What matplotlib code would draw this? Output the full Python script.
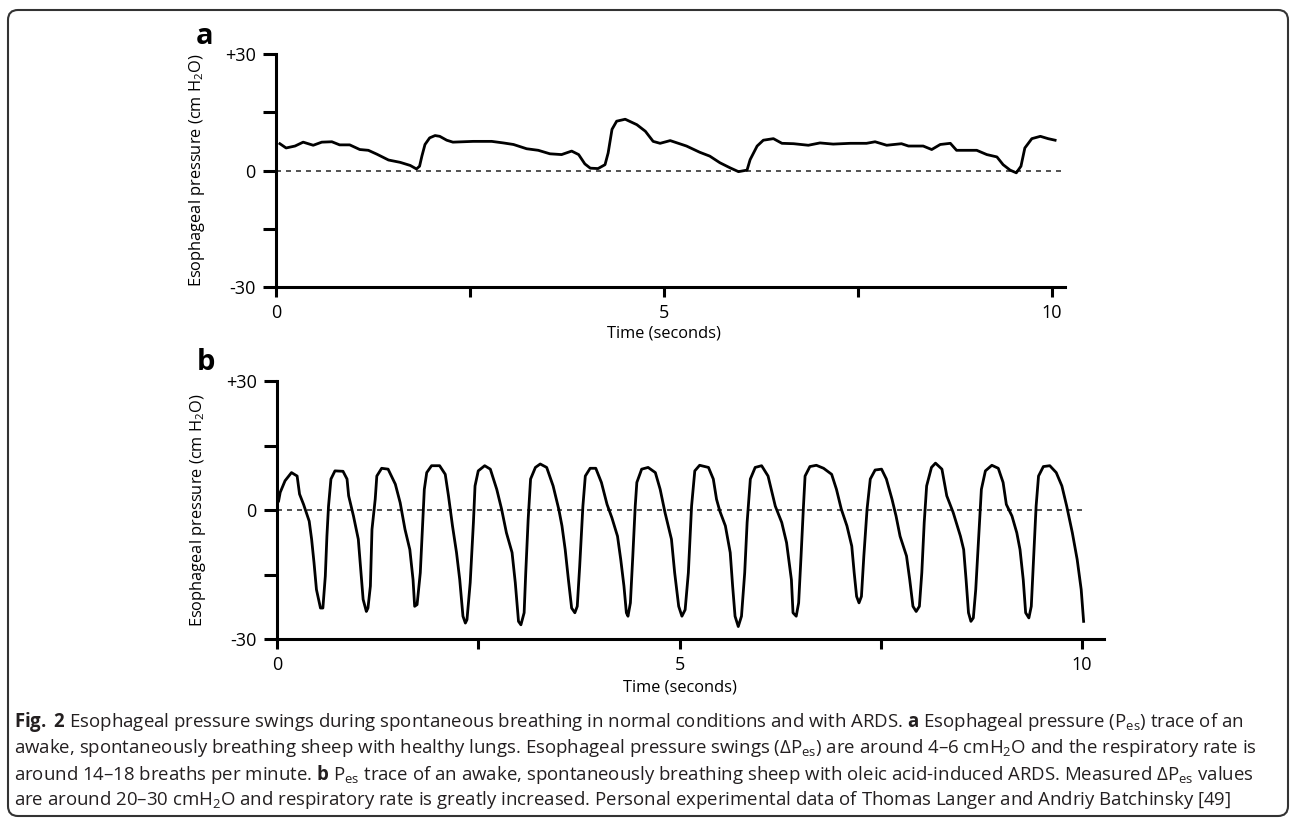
import matplotlib
matplotlib.use("Agg")
import matplotlib.pyplot as plt
from matplotlib.patches import FancyBboxPatch

plt.rcParams['font.family'] = ['Open Sans', 'DejaVu Sans']
plt.rcParams['mathtext.fontset'] = 'custom'
plt.rcParams['mathtext.rm'] = 'Open Sans'
plt.rcParams['mathtext.it'] = 'Open Sans:italic'
plt.rcParams['mathtext.bf'] = 'Open Sans:bold'

# panel a: healthy lungs (time in s, pressure in cm H2O)
a_time = [0.05, 0.13, 0.245, 0.35, 0.48, 0.59, 0.72, 0.82, 0.95, 1.08, 1.19, 1.30, 1.45, 1.60,
          1.73, 1.81, 1.85, 1.88, 1.92, 1.98, 2.05, 2.11, 2.20, 2.28, 2.41, 2.54, 2.78, 2.93,
          3.06, 3.23, 3.38, 3.53, 3.68, 3.81, 3.90, 3.98, 4.05, 4.15, 4.24, 4.28, 4.33, 4.39,
          4.50, 4.65, 4.76, 4.86, 4.95, 5.08, 5.29, 5.46, 5.59, 5.72, 5.85, 5.96, 6.07, 6.11,
          6.20, 6.28, 6.41, 6.52, 6.67, 6.86, 7.01, 7.18, 7.40, 7.61, 7.72, 7.87, 8.06, 8.15,
          8.34, 8.45, 8.56, 8.69, 8.77, 8.90, 9.03, 9.16, 9.29, 9.37, 9.46, 9.54, 9.60, 9.65,
          9.74, 9.85, 9.95, 10.04]
a_pres = [6.9, 5.8, 6.3, 7.3, 6.5, 7.3, 7.4, 6.6, 6.6, 5.4, 5.2, 4.2, 2.7, 2.1,
          1.3, 0.4, 1.1, 3.7, 6.7, 8.4, 9.0, 8.8, 7.8, 7.3, 7.4, 7.5, 7.5, 7.1,
          6.7, 5.6, 5.2, 4.3, 4.1, 5.0, 4.1, 1.7, 0.6, 0.5, 1.5, 4.5, 10.6, 12.7,
          13.2, 11.8, 10.1, 7.5, 7.0, 7.7, 6.3, 4.7, 3.7, 2.0, 0.7, -0.3, 0.1, 2.8,
          6.3, 7.8, 8.2, 7.0, 6.9, 6.5, 7.1, 6.8, 7.0, 7.0, 7.4, 6.5, 6.9, 6.3,
          6.3, 5.4, 6.7, 7.0, 5.2, 5.2, 5.2, 4.1, 3.5, 1.5, 0.1, -0.6, 1.1, 5.8,
          8.2, 8.8, 8.2, 7.8]

# panel b: oleic acid-induced ARDS
b_time = [0.02, 0.04, 0.10, 0.18, 0.25, 0.28, 0.33, 0.40, 0.43, 0.46, 0.49, 0.54, 0.57, 0.60,
          0.62, 0.64, 0.67, 0.72, 0.82, 0.87, 0.89, 0.95, 1.01, 1.04, 1.07, 1.11, 1.13, 1.16,
          1.18, 1.22, 1.24, 1.30, 1.38, 1.47, 1.53, 1.59, 1.65, 1.69, 1.71, 1.74, 1.78, 1.81,
          1.83, 1.86, 1.92, 2.02, 2.09, 2.13, 2.18, 2.23, 2.27, 2.31, 2.34, 2.36, 2.40, 2.44,
          2.46, 2.50, 2.58, 2.65, 2.73, 2.79, 2.85, 2.92, 2.96, 3.00, 3.03, 3.07, 3.09, 3.12,
          3.15, 3.21, 3.27, 3.35, 3.43, 3.50, 3.54, 3.58, 3.62, 3.66, 3.70, 3.73, 3.76, 3.80,
          3.83, 3.89, 3.96, 4.03, 4.10, 4.16, 4.23, 4.27, 4.31, 4.34, 4.36, 4.39, 4.42, 4.45,
          4.47, 4.53, 4.61, 4.70, 4.76, 4.82, 4.90, 4.94, 4.99, 5.03, 5.07, 5.11, 5.15, 5.19,
          5.25, 5.36, 5.42, 5.46, 5.50, 5.57, 5.63, 5.66, 5.69, 5.73, 5.77, 5.81, 5.84, 5.88,
          5.94, 6.02, 6.10, 6.19, 6.27, 6.33, 6.39, 6.41, 6.45, 6.48, 6.51, 6.54, 6.56, 6.62,
          6.70, 6.79, 6.89, 6.95, 7.01, 7.08, 7.14, 7.17, 7.20, 7.23, 7.26, 7.29, 7.33, 7.37,
          7.43, 7.51, 7.57, 7.64, 7.69, 7.74, 7.82, 7.86, 7.90, 7.94, 7.98, 8.01, 8.04, 8.07,
          8.13, 8.18, 8.26, 8.32, 8.40, 8.49, 8.53, 8.56, 8.59, 8.62, 8.65, 8.68, 8.72, 8.75,
          8.80, 8.88, 8.96, 9.02, 9.06, 9.13, 9.19, 9.23, 9.27, 9.30, 9.34, 9.37, 9.40, 9.43,
          9.46, 9.52, 9.60, 9.68, 9.75, 9.81, 9.88, 9.94, 9.99, 10.02]
b_pres = [2.1, 4.1, 6.8, 8.7, 7.9, 3.7, 1.3, -2.6, -6.8, -12.3, -18.5, -22.8, -22.8, -15.4,
          -6.1, 0.9, 7.2, 9.1, 9.0, 7.2, 3.3, -1.4, -6.8, -13.8, -20.8, -23.6, -22.8, -17.7,
          -4.5, 2.5, 7.9, 9.7, 9.5, 6.0, 1.7, -4.5, -9.2, -16.2, -22.4, -22.0, -14.6, -2.9,
          4.8, 8.7, 10.3, 10.3, 8.3, 3.3, -3.7, -9.9, -16.2, -24.7, -26.3, -25.5, -16.9, -2.9,
          5.6, 9.1, 10.3, 9.5, 4.8, 0.2, -5.3, -9.9, -16.9, -25.9, -26.7, -23.9, -14.6, -2.2,
          7.2, 9.9, 10.7, 9.9, 5.6, 0.2, -3.7, -9.2, -16.2, -22.8, -23.9, -22.4, -13.1, 0.9,
          7.9, 9.7, 9.7, 6.4, 1.3, -1.8, -6.1, -11.5, -17.7, -23.9, -24.7, -21.6, -10.7, 0.9,
          6.4, 9.5, 9.9, 8.7, 4.8, -0.6, -6.8, -14.6, -22.4, -24.7, -23.2, -14.6, 0.9, 9.1,
          10.4, 9.9, 7.2, 2.5, -0.2, -3.7, -9.9, -17.7, -24.7, -27.1, -24.7, -14.6, -2.9, 7.2,
          9.9, 10.3, 7.9, 0.9, -2.9, -7.6, -16.2, -23.9, -24.7, -21.6, -10.7, 0.9, 7.9, 10.1,
          10.4, 9.7, 8.3, 4.8, 0.2, -3.7, -8.4, -14.6, -20.1, -21.6, -20.1, -10.7, 0.2, 7.2,
          9.3, 9.5, 7.2, 2.5, -1.4, -6.1, -10.7, -16.2, -22.4, -23.6, -22.4, -14.6, -2.9, 5.6,
          9.9, 10.9, 9.5, 3.3, -0.6, -6.1, -9.2, -16.2, -23.9, -25.9, -25.1, -18.5, -5.3, 4.8,
          9.1, 10.4, 9.7, 6.4, 1.3, -1.4, -5.3, -9.2, -16.2, -23.9, -25.1, -22.4, -10.7, 0.9,
          7.9, 10.1, 10.3, 8.7, 5.6, 0.9, -5.3, -11.5, -18.5, -25.9]

y_ticks = [-30, 0, 30]
y_ticklabels = ['-30', '0', '+30']
y_minor = [-15, 15]
x_ticks = [0, 5, 10]
x_ticklabels = ['0', '5', '10']
x_minor = [2.5, 7.5]

caption_lines = [
    r"$\mathbf{Fig.}$ $\mathbf{2}$ Esophageal pressure swings during spontaneous breathing in normal conditions and with ARDS. "
    r"$\mathbf{a}$ Esophageal pressure (P$_{\mathrm{es}}$) trace of an",
    r"awake, spontaneously breathing sheep with healthy lungs. Esophageal pressure swings (ΔP$_{\mathrm{es}}$) "
    r"are around 4–6 cmH$_2$O and the respiratory rate is",
    r"around 14–18 breaths per minute. $\mathbf{b}$ P$_{\mathrm{es}}$ trace of an awake, spontaneously breathing "
    r"sheep with oleic acid-induced ARDS. Measured ΔP$_{\mathrm{es}}$ values",
    r"are around 20–30 cmH$_2$O and respiratory rate is greatly increased. Personal experimental data of "
    r"Thomas Langer and Andriy Batchinsky [49]",
]

W, H = 1296, 824
fig = plt.figure(figsize=(W / 100, H / 100), dpi=100)


def px_axes(x0, x1, ytop, ybot):
    return fig.add_axes([x0 / W, 1 - ybot / H, (x1 - x0) / W, (ybot - ytop) / H])


def style_axis(ax, xmax, ylab_x, xlab_y):
    ax.set_xlim(0, xmax)
    ax.set_ylim(-30, 30)
    for s in ['top', 'right']:
        ax.spines[s].set_visible(False)
    for s in ['left', 'bottom']:
        ax.spines[s].set_linewidth(2.2)
    ax.set_yticks(y_ticks)
    ax.set_yticklabels(y_ticklabels, fontsize=13)
    ax.set_yticks(y_minor, minor=True)
    ax.set_xticks(x_ticks)
    ax.set_xticklabels(x_ticklabels, fontsize=13)
    ax.set_xticks(x_minor, minor=True)
    ax.tick_params(axis='y', which='both', length=9.5, width=2.2, pad=5)
    ax.tick_params(axis='x', which='both', length=7.2, width=2.2, pad=5)
    ax.set_ylabel(r"Esophageal pressure (cm H$_2$O)", fontsize=11.8)
    ax.yaxis.set_label_coords(ylab_x, 0.5)
    ax.set_xlabel("Time (seconds)", fontsize=11.8, va='center')
    ax.xaxis.set_label_coords(5 / xmax, xlab_y)
    ax.patch.set_alpha(0)


# panel a
ax_a = px_axes(276, 1065, 54, 287)
ax_a.axhline(0, color='#333333', lw=1.2, dashes=(3, 3))
ax_a.plot(a_time, a_pres, color='black', lw=2.0, solid_joinstyle='round')
style_axis(ax_a, (1065 - 276) / 77.6, (207 - 276) / (1065 - 276), (287 - 333) / (287 - 54))

# panel b
ax_b = px_axes(277, 1104, 381, 639)
ax_b.hlines(0, 0, b_time[-1], color='#333333', lw=1.2, linestyles=(0, (3, 3)))
ax_b.plot(b_time, b_pres, color='black', lw=2.0, solid_joinstyle='round')
style_axis(ax_b, (1104 - 277) / 80.5, (208 - 277) / (1104 - 277), (639 - 687) / (639 - 381))

fig.text(205 / W, 1 - 37 / H, 'a', fontsize=21, fontweight='bold', ha='center', va='center')
fig.text(206 / W, 1 - 362 / H, 'b', fontsize=21, fontweight='bold', ha='center', va='center')

for i, line in enumerate(caption_lines):
    fig.text(14 / W, 1 - (722 + 26 * i) / H, line, fontsize=13.4, color='#231f20', ha='left', va='center')

border = FancyBboxPatch((0.08, 0.08), 12.80, 8.06, boxstyle="round,pad=0,rounding_size=0.1",
                        transform=fig.dpi_scale_trans, fill=False, edgecolor='#333333', lw=1.5)
fig.patches.append(border)

fig.savefig("out.png", dpi=100)
